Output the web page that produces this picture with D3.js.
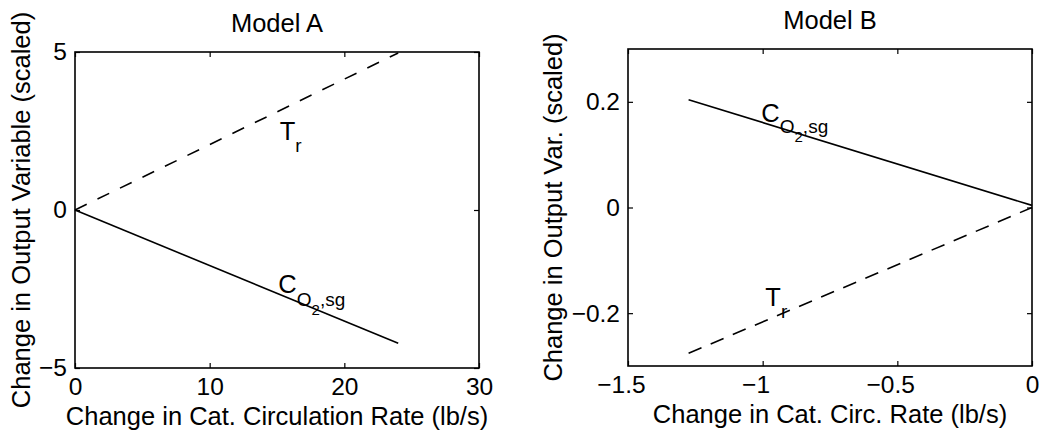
<!DOCTYPE html>
<html>
<head>
<meta charset="utf-8">
<script src="https://cdn.jsdelivr.net/npm/d3@7"></script>
<style>
  html, body { margin: 0; padding: 0; background: #fff; }
  svg text { font-family: "Liberation Sans", Arial, Helvetica, sans-serif; fill: #000; }
</style>
</head>
<body>
<svg id="chart" width="1039" height="431"></svg>
<script>
// ---------- Data ----------
// Model A
const aTitle = "Model A";
const aXLabel = "Change in Cat. Circulation Rate (lb/s)";
const aYLabel = "Change in Output Variable (scaled)";
const aXDomain = [0, 30];
const aYDomain = [-5, 5];
const aXTicks = [0, 10, 20, 30];
const aXTickLabels = ["0", "10", "20", "30"];
const aYTicks = [-5, 0, 5];
const aYTickLabels = ["\u22125", "0", "5"];
const aX = [0, 24];
const aTr = [0, 4.97];
const aCO2 = [0, -4.22];
const aTrLabelAt = [15.2, 2.2];
const aCLabelAt = [15.1, -2.63];

// Model B
const bTitle = "Model B";
const bXLabel = "Change in Cat. Circ. Rate (lb/s)";
const bYLabel = "Change in Output Var. (scaled)";
const bXDomain = [-1.5, 0];
const bYDomain = [-0.3, 0.3];
const bXTicks = [-1.5, -1, -0.5, 0];
const bXTickLabels = ["\u22121.5", "\u22121", "\u22120.5", "0"];
const bYTicks = [-0.2, 0, 0.2];
const bYTickLabels = ["\u22120.2", "0", "0.2"];
const bX = [-1.275, 0];
const bCO2 = [0.204, 0.004];
const bTr = [-0.276, 0.0];
const bTrLabelAt = [-0.99, -0.186];
const bCLabelAt = [-1.005, 0.162];

// ---------- Drawing ----------
const svg = d3.select("#chart");
const FS = 25.5;
const TICK_FS = 24.5;

function drawPanel(p) {
  const g = svg.append("g");
  const x = d3.scaleLinear().domain(p.xDomain).range([p.left, p.right]);
  const y = d3.scaleLinear().domain(p.yDomain).range([p.bottom, p.top]);
  const w = p.right - p.left, h = p.bottom - p.top;

  const fmt = (vals, labels) => d => labels[vals.indexOf(d)];

  const ax = g.append("g").attr("transform", `translate(0,${p.bottom})`)
    .call(d3.axisBottom(x).tickValues(p.xTicks).tickFormat(fmt(p.xTicks, p.xTickLabels))
      .tickSizeInner(-5).tickSizeOuter(0).tickPadding(10));
  const axT = g.append("g").attr("transform", `translate(0,${p.top})`)
    .call(d3.axisTop(x).tickValues(p.xTicks).tickFormat("").tickSizeInner(-5).tickSizeOuter(0));
  const ay = g.append("g").attr("transform", `translate(${p.left},0)`)
    .call(d3.axisLeft(y).tickValues(p.yTicks).tickFormat(fmt(p.yTicks, p.yTickLabels))
      .tickSizeInner(-5).tickSizeOuter(0).tickPadding(8));
  const ayR = g.append("g").attr("transform", `translate(${p.right},0)`)
    .call(d3.axisRight(y).tickValues(p.yTicks).tickFormat("").tickSizeInner(-5).tickSizeOuter(0));

  [ax, axT, ay, ayR].forEach(a => {
    a.select(".domain").remove();
    a.selectAll(".tick line").attr("stroke", "#000").attr("stroke-width", 1.2);
    a.selectAll("text").attr("font-size", TICK_FS)
      .attr("font-family", '"Liberation Sans", Arial, sans-serif').attr("fill", "#000");
  });
  // centre the digits (not the minus sign) on the tick, as in the original
  ax.selectAll(".tick text").attr("dx", function() {
    return this.textContent.startsWith("\u2212") ? "-0.29em" : null;
  });

  g.append("rect").attr("x", p.left).attr("y", p.top).attr("width", w).attr("height", h)
    .attr("fill", "none").attr("stroke", "#000").attr("stroke-width", 1.6);

  const line = d3.line().x(d => x(d[0])).y(d => y(d[1]));
  const solid = p.xs.map((v, i) => [v, p.solid[i]]);
  const dashed = p.xs.map((v, i) => [v, p.dashed[i]]);
  g.append("path").datum(solid).attr("d", line).attr("fill", "none")
    .attr("stroke", "#000").attr("stroke-width", 1.6);
  g.append("path").datum(dashed).attr("d", line).attr("fill", "none")
    .attr("stroke", "#000").attr("stroke-width", 1.6).attr("stroke-dasharray", p.dash);

  g.append("text").attr("x", (p.left + p.right) / 2).attr("y", p.titleY)
    .attr("text-anchor", "middle").attr("font-size", FS).text(p.title);
  g.append("text").attr("x", (p.left + p.right) / 2).attr("y", p.xLabelY)
    .attr("text-anchor", "middle").attr("font-size", FS).text(p.xLabel);
  g.append("text").attr("transform", `translate(${p.yLabelX},${(p.top + p.bottom) / 2}) rotate(-90)`)
    .attr("text-anchor", "middle").attr("font-size", FS).text(p.yLabel);

  const tr = g.append("text").attr("x", x(p.trAt[0])).attr("y", y(p.trAt[1])).attr("font-size", FS);
  tr.append("tspan").text("T");
  tr.append("tspan").attr("font-size", 19).attr("dy", 12).text("r");

  const c = g.append("text").attr("x", x(p.cAt[0])).attr("y", y(p.cAt[1])).attr("font-size", FS);
  c.append("tspan").text("C");
  c.append("tspan").attr("font-size", 19).attr("dy", p.oDy).text("O");
  c.append("tspan").attr("font-size", 15).attr("dy", 9).text("2");
  c.append("tspan").attr("font-size", 19).attr("dy", -9).text(",sg");
}

drawPanel({
  left: 75, right: 479, top: 52, bottom: 368,
  xDomain: aXDomain, yDomain: aYDomain,
  xTicks: aXTicks, xTickLabels: aXTickLabels, yTicks: aYTicks, yTickLabels: aYTickLabels,
  xs: aX, solid: aCO2, dashed: aTr, dash: "13,12",
  title: aTitle, xLabel: aXLabel, yLabel: aYLabel,
  titleY: 32, xLabelY: 424.5, yLabelX: 30, oDy: 13,
  trAt: aTrLabelAt, cAt: aCLabelAt
});

drawPanel({
  left: 628, right: 1032, top: 49, bottom: 366,
  xDomain: bXDomain, yDomain: bYDomain,
  xTicks: bXTicks, xTickLabels: bXTickLabels, yTicks: bYTicks, yTickLabels: bYTickLabels,
  xs: bX, solid: bCO2, dashed: bTr, dash: "14,10",
  title: bTitle, xLabel: bXLabel, yLabel: bYLabel,
  titleY: 29, xLabelY: 423, yLabelX: 562, oDy: 11,
  trAt: bTrLabelAt, cAt: bCLabelAt
});
</script>
</body>
</html>
